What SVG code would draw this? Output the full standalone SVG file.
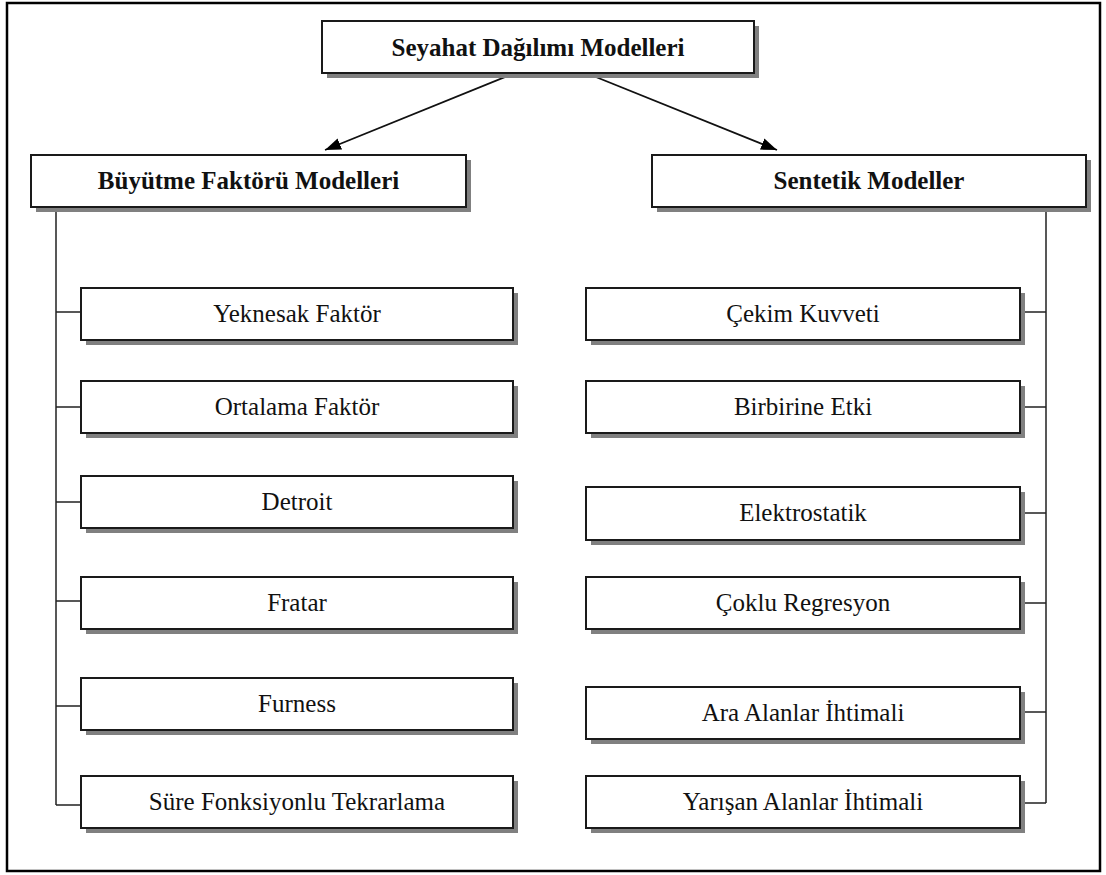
<svg xmlns="http://www.w3.org/2000/svg" width="1106" height="875" viewBox="0 0 1106 875" font-family="Liberation Serif, Times New Roman, DejaVu Serif, serif">
<defs>
<marker id="arrow" viewBox="0 0 16 12" refX="16" refY="6" markerWidth="16" markerHeight="12" markerUnits="userSpaceOnUse" orient="auto">
<path d="M0,0 L16,6 L0,12 Z" fill="#000"/>
</marker>
</defs>
<style>
.shadow{fill:#808080;stroke:none}
.box{fill:#fff;stroke:#1a1a1a;stroke-width:2}
text{font-family:'Liberation Serif','Times New Roman','DejaVu Serif',serif}
.t{font-size:25px;fill:#111;text-anchor:middle}
.b{font-weight:bold}
.conn{fill:none;stroke:#222;stroke-width:1.5}
.arr{fill:none;stroke:#111;stroke-width:1.8}
</style>
<rect x="7" y="3" width="1093" height="868" fill="#fff" stroke="#000" stroke-width="2.5"/>

<g id="connectors">
<line class="arr" x1="515" y1="73" x2="325" y2="150" marker-end="url(#arrow)"/>
<line class="arr" x1="586" y1="73" x2="777" y2="150" marker-end="url(#arrow)"/>
<path class="conn" d="M56,207 V805 M56,312 H81 M56,407 H81 M56,502 H81 M56,601 H81 M56,706 H81 M56,805 H81"/>
<path class="conn" d="M1046,207 V803 M1020,312 H1046 M1020,407 H1046 M1020,513 H1046 M1020,603 H1046 M1020,712 H1046 M1020,803 H1046"/>
</g>

<g id="n-root">
<rect class="shadow" x="327" y="26" width="432" height="52"/>
<rect class="box" x="322" y="21" width="432" height="52"/>
<text class="t b" x="538" y="56">Seyahat Dağılımı Modelleri</text>
</g>
<g id="n-buyutme">
<rect class="shadow" x="36" y="160" width="435" height="52"/>
<rect class="box" x="31" y="155" width="435" height="52"/>
<text class="t b" x="248.5" y="189">Büyütme Faktörü Modelleri</text>
</g>
<g id="n-sentetik">
<rect class="shadow" x="657" y="160" width="434" height="52"/>
<rect class="box" x="652" y="155" width="434" height="52"/>
<text class="t b" x="869" y="189">Sentetik Modeller</text>
</g>

<g id="n-yeknesak">
<rect class="shadow" x="86" y="293" width="432" height="52"/>
<rect class="box" x="81" y="288" width="432" height="52"/>
<text class="t" x="297" y="322">Yeknesak Faktör</text>
</g>
<g id="n-ortalama">
<rect class="shadow" x="86" y="386" width="432" height="52"/>
<rect class="box" x="81" y="381" width="432" height="52"/>
<text class="t" x="297" y="415">Ortalama Faktör</text>
</g>
<g id="n-detroit">
<rect class="shadow" x="86" y="481" width="432" height="52"/>
<rect class="box" x="81" y="476" width="432" height="52"/>
<text class="t" x="297" y="510">Detroit</text>
</g>
<g id="n-fratar">
<rect class="shadow" x="86" y="582" width="432" height="52"/>
<rect class="box" x="81" y="577" width="432" height="52"/>
<text class="t" x="297" y="611">Fratar</text>
</g>
<g id="n-furness">
<rect class="shadow" x="86" y="683" width="432" height="52"/>
<rect class="box" x="81" y="678" width="432" height="52"/>
<text class="t" x="297" y="712">Furness</text>
</g>
<g id="n-sure">
<rect class="shadow" x="86" y="781" width="432" height="52"/>
<rect class="box" x="81" y="776" width="432" height="52"/>
<text class="t" x="297" y="810">Süre Fonksiyonlu Tekrarlama</text>
</g>

<g id="n-cekim">
<rect class="shadow" x="591" y="293" width="434" height="52"/>
<rect class="box" x="586" y="288" width="434" height="52"/>
<text class="t" x="803" y="322">Çekim Kuvveti</text>
</g>
<g id="n-birbirine">
<rect class="shadow" x="591" y="386" width="434" height="52"/>
<rect class="box" x="586" y="381" width="434" height="52"/>
<text class="t" x="803" y="415">Birbirine Etki</text>
</g>
<g id="n-elektrostatik">
<rect class="shadow" x="591" y="492" width="434" height="53"/>
<rect class="box" x="586" y="487" width="434" height="53"/>
<text class="t" x="803" y="521">Elektrostatik</text>
</g>
<g id="n-coklu">
<rect class="shadow" x="591" y="582" width="434" height="52"/>
<rect class="box" x="586" y="577" width="434" height="52"/>
<text class="t" x="803" y="611">Çoklu Regresyon</text>
</g>
<g id="n-ara">
<rect class="shadow" x="591" y="692" width="434" height="52"/>
<rect class="box" x="586" y="687" width="434" height="52"/>
<text class="t" x="803" y="721">Ara Alanlar İhtimali</text>
</g>
<g id="n-yarisan">
<rect class="shadow" x="591" y="781" width="434" height="52"/>
<rect class="box" x="586" y="776" width="434" height="52"/>
<text class="t" x="803" y="810">Yarışan Alanlar İhtimali</text>
</g>
</svg>
